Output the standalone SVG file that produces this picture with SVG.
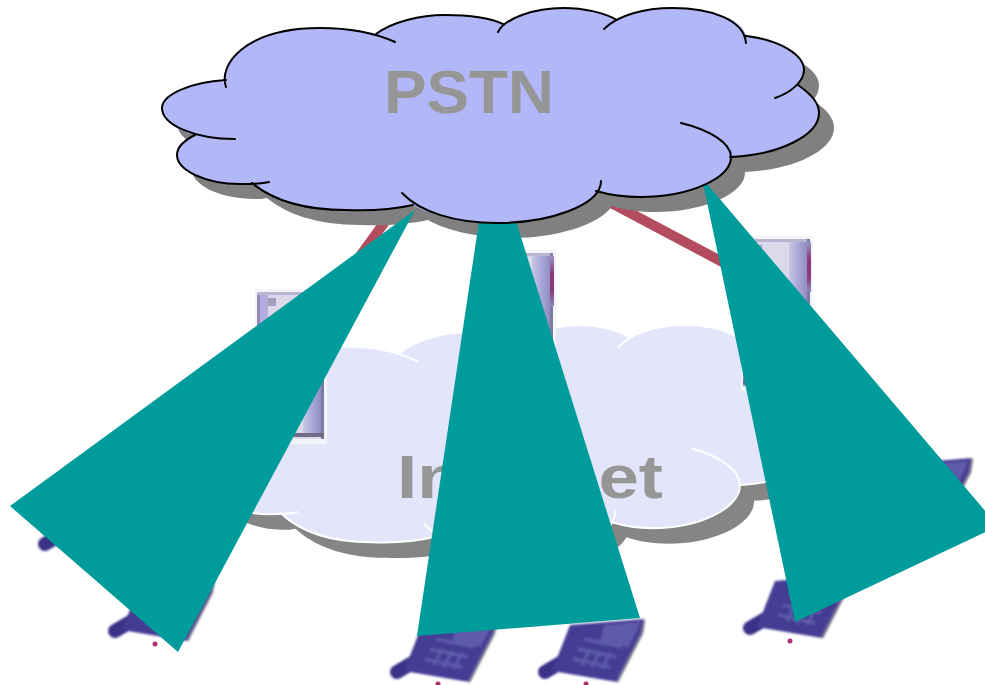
<svg xmlns="http://www.w3.org/2000/svg" xmlns:xlink="http://www.w3.org/1999/xlink" width="985" height="685" viewBox="0 0 985 685">
<style>
.label{font-family:"Liberation Sans",Arial,sans-serif;font-weight:700;font-size:62px;fill:#969696}
.teal{fill:#009b9b;stroke:none}
.link{stroke:#b34c5f;stroke-width:10;fill:none}
.arcs{fill:none;stroke-width:2;stroke-linecap:round}
</style>
<defs>
<linearGradient id="gwSide" x1="0" y1="0" x2="1" y2="0"><stop offset="0" stop-color="#c9c6e4"/><stop offset=".55" stop-color="#a6a4d6"/><stop offset="1" stop-color="#8d89bd"/></linearGradient>
<linearGradient id="gwAccent" x1="0" y1="0" x2="0" y2="1"><stop offset="0" stop-color="#9a94c8"/><stop offset=".35" stop-color="#8a3a7d"/><stop offset=".7" stop-color="#8a3a7d"/><stop offset="1" stop-color="#8d89bd"/></linearGradient>
<filter id="soft" x="-10%" y="-10%" width="120%" height="120%"><feGaussianBlur stdDeviation="1.1"/></filter>
<path id="cloudFill" d="M226,87C218,65 245,28 320,28C340,28 360,30 376,34C392,22 420,15 445,15C468,15 490,18 503,24C525,12 545,8 563,8C585,8 605,13 617,20C630,12 650,8 672,8C712,8 744,20 746,36C780,40 804,55 804,70C804,76 802,81 798,85C812,95 819,103 819,113C819,135 780,155 730,157C731,178 690,197 640,197C625,197 610,195 597,191C585,210 540,223 497,223C465,223 432,216 413,205C395,209 370,211 346,210C300,210 270,198 252,183C248,184 244,184 240,184C205,184 177,170 177,155C177,147 185,140 195,135C175,130 162,120 162,108C162,95 190,82 222,80Z"/>
<path id="cloudArcs" d="M226,87C218,65 245,28 320,28C350,28 375,33 395,42M376,34C392,22 420,15 445,15C468,15 490,18 503,24M498,32C505,18 535,8 563,8C585,8 605,13 617,20M604,29C618,15 645,8 672,8C712,8 744,20 746,43M746,36C780,40 804,55 804,70C804,82 790,93 775,98M798,85C812,95 819,103 819,113C819,135 780,155 730,157M681,123C710,130 731,143 731,157C731,178 690,197 640,197C625,197 610,195 596,191M601,181C601,205 550,223 497,223C455,223 420,212 402,193M413,205C395,209 370,211 346,210C300,210 270,198 252,183M269,182C262,184 250,184 240,184C205,184 177,170 177,155C177,147 185,140 195,135M235,139C195,139 162,125 162,108C162,95 190,82 226,80"/>
<g id="gatewayShape" shape-rendering="crispEdges">
<rect x="0" y="0" width="72" height="155" fill="#f4f3f8"/>
<rect x="2" y="3" width="67" height="147" fill="#dcdaea"/>
<rect x="2" y="3" width="3" height="147" fill="#8f8ab4"/>
<rect x="5" y="6" width="8" height="140" fill="#b3acdf"/>
<rect x="2" y="3" width="67" height="3" fill="#b9b5d0"/>
<rect x="13" y="9" width="8" height="8" fill="#a39fc0"/>
<rect x="48" y="6" width="19" height="140" fill="url(#gwSide)"/>
<rect x="66" y="3" width="3" height="147" fill="#7d7aa6"/>
<rect x="2" y="144" width="67" height="4" fill="#6f6c88"/>
<rect x="66" y="6" width="4" height="50" fill="url(#gwAccent)"/>
</g>
<g id="phoneShape" filter="url(#soft)">
<path d="M7,53L24,43" stroke="#3a3288" stroke-width="14" stroke-linecap="round" fill="none"/>
<path d="M32,6L106,0L104,14L79,63L14,52Z" fill="#453d94"/>
<path d="M66,6L102,3L98,14L90,28L62,24Z" fill="#5f5aaa"/>
<path d="M35,40L72,48M40,30L78,38M46,20L84,28M52,30L44,46M62,32L54,48M72,34L64,50" stroke="#5f5bab" stroke-width="3" fill="none"/>
<path d="M106,1L104,14L79,63" stroke="#77758f" stroke-width="2.5" fill="none"/>
</g>
</defs>

<g id="internet-cloud">
<use href="#cloudFill" fill="#858585" transform="translate(54,332) scale(.9589,1.075)"/>
<use href="#cloudFill" fill="#e3e5fa" transform="translate(39,316.4) scale(.9589,1.075)"/>
<use href="#cloudArcs" class="arcs" stroke="#ffffff" transform="translate(39,316.4) scale(.9589,1.075)"/>
<text class="label" x="397" y="498" textLength="266" lengthAdjust="spacingAndGlyphs">Internet</text>
</g>

<g id="gateway-left"><use href="#gatewayShape" x="255" y="289"/></g>
<g id="gateway-center"><use href="#gatewayShape" x="484" y="250"/></g>
<g id="gateway-right"><use href="#gatewayShape" x="741" y="236"/></g>

<g id="phone-1"><use href="#phoneShape" x="38" y="491"/></g>
<g id="phone-2"><use href="#phoneShape" x="108" y="578"/><circle cx="155" cy="644" r="2.5" fill="#b0306f"/></g>
<g id="phone-3"><use href="#phoneShape" x="390" y="619"/><circle cx="438" cy="684" r="2.5" fill="#b0306f"/></g>
<g id="phone-4"><use href="#phoneShape" x="538" y="619"/><circle cx="586" cy="684" r="2.5" fill="#b0306f"/></g>
<g id="phone-5"><use href="#phoneShape" x="743" y="575"/><circle cx="790" cy="641" r="2.5" fill="#b0306f"/></g>
<g id="phone-6"><use href="#phoneShape" x="866" y="458"/></g>

<g id="connectors">
<path class="link" d="M355,263L400,201"/>
<path class="link" d="M600,197L730,266"/>
</g>

<g id="pstn-shadow"><use href="#cloudFill" fill="#808080" transform="translate(15,15)"/></g>

<g id="callouts">
<polygon class="teal" points="415,210 10,506 178,652"/>
<polygon class="teal" points="491,141 640,618 417,636"/>
<polygon class="teal" points="702,178 998,526 795,622"/>
</g>

<g id="pstn-cloud">
<use href="#cloudFill" fill="#b2b8f7"/>
<use href="#cloudArcs" class="arcs" stroke="#000000"/>
<text class="label" x="384" y="113" textLength="170" lengthAdjust="spacingAndGlyphs">PSTN</text>
</g>
</svg>
